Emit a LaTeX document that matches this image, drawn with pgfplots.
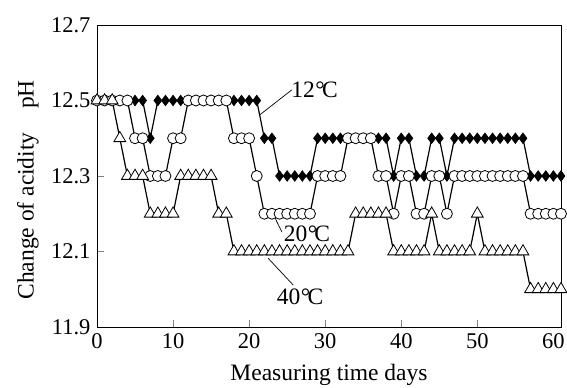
\documentclass[border=0pt]{standalone}
\usepackage{fontspec}
\setmainfont{Liberation Serif}
\usepackage{pgfplots}
\usepackage{pgfplotstable}
\pgfplotsset{compat=1.18}

\pgfplotstableread{
d t12 t20 t40
0 12.5 12.5 12.5
1 12.5 12.5 12.5
2 12.5 12.5 12.5
3 12.5 12.5 12.4
4 12.5 12.5 12.3
5 12.5 12.4 12.3
6 12.5 12.4 12.3
7 12.4 12.3 12.2
8 12.5 12.3 12.2
9 12.5 12.3 12.2
10 12.5 12.4 12.2
11 12.5 12.4 12.3
12 12.5 12.5 12.3
13 12.5 12.5 12.3
14 12.5 12.5 12.3
15 12.5 12.5 12.3
16 12.5 12.5 12.2
17 12.5 12.5 12.2
18 12.5 12.4 12.1
19 12.5 12.4 12.1
20 12.5 12.4 12.1
21 12.5 12.3 12.1
22 12.4 12.2 12.1
23 12.4 12.2 12.1
24 12.3 12.2 12.1
25 12.3 12.2 12.1
26 12.3 12.2 12.1
27 12.3 12.2 12.1
28 12.3 12.2 12.1
29 12.4 12.3 12.1
30 12.4 12.3 12.1
31 12.4 12.3 12.1
32 12.4 12.3 12.1
33 12.4 12.4 12.1
34 12.4 12.4 12.2
35 12.4 12.4 12.2
36 12.4 12.4 12.2
37 12.4 12.3 12.2
38 12.4 12.3 12.2
39 12.3 12.2 12.1
40 12.4 12.3 12.1
41 12.4 12.3 12.1
42 12.3 12.2 12.1
43 12.3 12.2 12.1
44 12.4 12.3 12.2
45 12.4 12.3 12.1
46 12.3 12.2 12.1
47 12.4 12.3 12.1
48 12.4 12.3 12.1
49 12.4 12.3 12.1
50 12.4 12.3 12.2
51 12.4 12.3 12.1
52 12.4 12.3 12.1
53 12.4 12.3 12.1
54 12.4 12.3 12.1
55 12.4 12.3 12.1
56 12.4 12.3 12.1
57 12.3 12.2 12.0
58 12.3 12.2 12.0
59 12.3 12.2 12.0
60 12.3 12.2 12.0
61 12.3 12.2 12.0
}\datatable

\begin{document}
\begin{tikzpicture}
\begin{axis}[
  scale only axis,
  width=464pt, height=302pt,
  xmin=0, xmax=61, ymin=11.9, ymax=12.7,
  clip=false,
  axis line style={line width=0.8pt},
  xtick={0,10,20,30,40,50},
  extra x ticks={60},
  extra x tick style={major tick length=0pt},
  ytick={11.9,12.1,12.3,12.5,12.7},
  yticklabels={11.9,12.1,12.3,12.5,12.7},
  xtick pos=bottom, ytick pos=left,
  tick align=inside,
  major tick length=7pt,
  tick style={line width=0.8pt},
  /pgf/number format/assume math mode=true,
  tick label style={font=\fontsize{22.5}{24}\selectfont},
  xticklabel style={yshift=-3pt},
  yticklabel style={xshift=-3pt},
  xlabel={Measuring time days},
  ylabel={Change of acidity\quad pH},
  every axis x label/.style={at={(axis description cs:0.5,-0.159)}, anchor=center,
    font=\fontsize{23.5}{26}\selectfont},
  every axis y label/.style={at={(axis description cs:-0.149,0.454)}, anchor=center, rotate=90,
    font=\fontsize{23.5}{26}\selectfont},
]
\addplot[black, line width=1.2pt, mark=diamond*, mark size=5.3pt,
  mark options={fill=black, line width=0.6pt}] table[x=d, y=t12] {\datatable};
\addplot[black, line width=1.2pt, mark=*, mark size=5.5pt,
  mark options={fill=white, draw=black, line width=0.8pt}] table[x=d, y=t20] {\datatable};
\addplot[black, line width=1.2pt, mark=triangle*, mark size=6.8pt,
  mark options={fill=white, draw=black, line width=0.8pt}] table[x=d, y=t40] {\datatable};

\draw[line width=0.7pt] (axis cs:21.4,12.462) -- (axis cs:25.6,12.528);
\node[font=\fontsize{23.5}{26}\selectfont] at (axis cs:28.6,12.528) {12\kern0.02em°\kern-0.12em C};
\draw[line width=0.7pt] (axis cs:23.4,12.189) -- (axis cs:24.3,12.152);
\node[font=\fontsize{23.5}{26}\selectfont] at (axis cs:27.6,12.146) {20\kern0.02em°\kern-0.12em C};
\draw[line width=0.7pt] (axis cs:22.5,12.082) -- (axis cs:25.8,12.011);
\node[font=\fontsize{23.5}{26}\selectfont] at (axis cs:26.7,11.98) {40\kern0.02em°\kern-0.12em C};

\coordinate (bl) at (rel axis cs:0,0);
\coordinate (tr) at (rel axis cs:1,1);
\end{axis}
\pgfresetboundingbox
\path ([shift={(-97pt,-61pt)}]bl) rectangle ([shift={(6pt,25pt)}]tr);
\end{tikzpicture}
\end{document}
